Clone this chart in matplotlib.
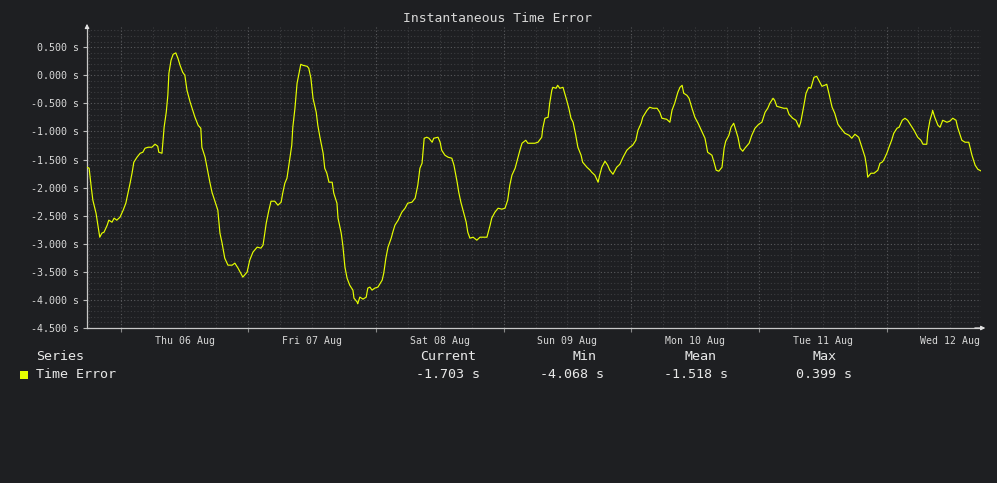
import datetime as dt
import matplotlib
matplotlib.use("Agg")
import matplotlib.pyplot as plt
import matplotlib.dates as mdates
from matplotlib.ticker import MultipleLocator, FuncFormatter

# hours since 2020-08-05 17:40, time error in seconds
hours = [
    0, 0.4, 0.8, 1.1, 1.7, 2.1, 2.4, 2.8, 3.2, 3.8, 4.1, 4.7, 5.1, 5.6, 6.2, 6.8, 7.3, 7.7, 8.1, 8.5,
    8.8, 9.4, 10.0, 10.5, 10.9, 11.5, 12.2, 12.8, 13.3, 13.5, 14.1, 14.3, 14.5, 14.9, 15.2, 15.4, 15.8, 16.2, 16.7, 17.1,
    17.5, 18.0, 18.4, 18.8, 19.4, 19.7, 20.3, 20.9, 21.4, 21.6, 22.2, 22.6, 23.1, 23.5, 24.1, 24.6, 25.0, 25.4, 25.9, 26.5,
    27.3, 27.8, 28.4, 28.8, 29.3, 30.1, 30.6, 31.2, 32.0, 32.7, 33.1, 33.7, 34.2, 34.6, 35.3, 35.9, 36.5, 36.8, 37.2, 37.6,
    38.0, 38.5, 38.7, 39.1, 39.5, 39.9, 40.2, 40.6, 41.4, 41.7, 42.1, 42.5, 43.1, 43.4, 43.8, 44.4, 44.7, 45.1, 45.5, 46.1,
    46.4, 47.0, 47.2, 47.8, 48.1, 48.5, 48.9, 49.4, 50.0, 50.2, 50.8, 50.9, 51.3, 51.9, 52.5, 52.8, 53.2, 53.6, 54.1, 54.7,
    55.5, 55.8, 56.2, 56.6, 57.2, 57.5, 57.9, 58.5, 59.2, 59.8, 60.3, 61.1, 61.7, 62.2, 62.6, 63.0, 63.4, 63.9, 64.3, 64.9,
    65.2, 66.0, 66.4, 66.7, 67.3, 67.9, 68.6, 69.0, 69.6, 69.9, 70.3, 70.7, 71.3, 71.6, 72.0, 72.6, 73.3, 73.9, 74.4, 75.2,
    75.8, 76.1, 76.7, 77.3, 78.0, 78.6, 79.1, 79.5, 79.9, 80.5, 81.0, 81.4, 81.8, 82.5, 82.9, 83.7, 84.2, 84.8, 85.5, 85.7,
    86.1, 86.7, 87.0, 87.4, 87.6, 88.2, 88.5, 88.9, 89.5, 90.2, 90.6, 91.0, 91.4, 91.9, 92.3, 92.9, 93.2, 94.0, 94.6, 94.9,
    95.5, 96.1, 96.4, 96.8, 97.4, 97.9, 98.3, 98.9, 99.6, 100.2, 100.8, 101.5, 102.1, 102.6, 103.2, 103.6, 104.2, 104.5, 105.3, 105.8,
    106.4, 107.2, 107.7, 108.1, 109.0, 109.6, 110.0, 110.5, 111.1, 111.5, 111.9, 112.2, 112.8, 113.2, 113.7, 114.3, 114.9, 115.6, 116.2, 116.7,
    117.5, 117.9, 118.3, 118.8, 119.4, 119.8, 120.1, 120.7, 121.1, 121.6, 122.0, 122.4, 122.8, 123.3, 123.7, 124.5, 125.0, 125.6, 126.3, 126.9,
    127.5, 128.0, 128.4, 129.0, 129.3, 129.7, 130.3, 131.0, 131.6, 132.0, 132.7, 133.3, 133.9, 134.2, 134.8, 135.2, 135.7, 136.1, 136.7, 137.2,
    137.6, 138.2, 138.7, 139.1, 139.5, 140.1, 140.6, 141.2, 141.9, 142.5, 143.3, 143.8, 144.4, 145.1, 145.7, 146.3, 146.6, 146.8, 147.4, 148.0,
    148.7, 149.1, 149.5, 149.8, 150.4, 150.8, 151.3, 151.7, 152.3, 152.7, 153.3, 153.8, 154.3, 154.9, 155.5, 156.2, 156.8, 157.2, 157.9, 158.1,
    158.5, 158.9, 159.0, 159.4, 160.0, 160.4, 160.9, 161.7, 162.2, 162.8, 163.4, 163.7, 164.5, 165.1, 165.8, 166.4, 167.0, 167.5, 168.1,
]
time_error = [
    -1.637, -1.655, -1.993, -2.224, -2.456, -2.705, -2.883, -2.811, -2.794, -2.669, -2.580, -2.616, -2.544, -2.580, -2.527, -2.402, -2.278, -2.100, -1.922, -1.726,
    -1.548, -1.459, -1.388, -1.370, -1.299, -1.281, -1.281, -1.228, -1.263, -1.370, -1.388, -1.157, -0.925, -0.658, -0.356, 0.036, 0.267, 0.374, 0.399, 0.302,
    0.178, 0.053, 0.0, -0.267, -0.480, -0.569, -0.747, -0.890, -0.943, -1.281, -1.459, -1.655, -1.904, -2.082, -2.260, -2.402, -2.811, -2.989, -3.256, -3.381,
    -3.381, -3.345, -3.434, -3.505, -3.594, -3.505, -3.292, -3.149, -3.060, -3.078, -3.025, -2.633, -2.402, -2.242, -2.242, -2.313, -2.260, -2.100, -1.922, -1.833,
    -1.566, -1.246, -0.925, -0.587, -0.142, 0.053, 0.196, 0.178, 0.160, 0.125, -0.053, -0.409, -0.658, -0.890, -1.103, -1.388, -1.655, -1.744, -1.904, -1.904,
    -2.100, -2.278, -2.544, -2.811, -3.025, -3.416, -3.612, -3.737, -3.826, -3.968, -4.039, -4.068, -3.950, -3.986, -3.950, -3.790, -3.772, -3.826, -3.790, -3.772,
    -3.648, -3.523, -3.256, -3.060, -2.900, -2.794, -2.669, -2.580, -2.438, -2.367, -2.278, -2.260, -2.189, -1.957, -1.655, -1.566, -1.121, -1.103, -1.121, -1.192,
    -1.121, -1.103, -1.192, -1.335, -1.423, -1.459, -1.477, -1.601, -1.904, -2.082, -2.260, -2.402, -2.616, -2.794, -2.900, -2.883, -2.936, -2.883, -2.883, -2.883,
    -2.669, -2.544, -2.438, -2.367, -2.384, -2.367, -2.224, -1.957, -1.779, -1.655, -1.477, -1.335, -1.210, -1.157, -1.210, -1.210, -1.210, -1.192, -1.103, -0.943,
    -0.765, -0.747, -0.498, -0.267, -0.214, -0.231, -0.178, -0.231, -0.214, -0.445, -0.587, -0.765, -0.836, -1.068, -1.281, -1.423, -1.548, -1.637, -1.690, -1.726,
    -1.779, -1.904, -1.779, -1.637, -1.530, -1.601, -1.690, -1.762, -1.637, -1.584, -1.459, -1.335, -1.281, -1.246, -1.157, -0.979, -0.854, -0.747, -0.623, -0.569,
    -0.587, -0.587, -0.658, -0.765, -0.783, -0.836, -0.623, -0.498, -0.302, -0.214, -0.178, -0.320, -0.356, -0.409, -0.569, -0.747, -0.854, -0.996, -1.121, -1.370,
    -1.423, -1.548, -1.690, -1.708, -1.637, -1.299, -1.174, -1.068, -0.925, -0.854, -0.979, -1.103, -1.299, -1.352, -1.299, -1.210, -1.068, -0.943, -0.872, -0.836,
    -0.658, -0.587, -0.498, -0.409, -0.445, -0.552, -0.569, -0.587, -0.587, -0.694, -0.765, -0.801, -0.925, -0.836, -0.534, -0.320, -0.214, -0.231, -0.036, -0.018,
    -0.089, -0.196, -0.178, -0.160, -0.320, -0.569, -0.676, -0.872, -0.961, -1.032, -1.068, -1.121, -1.050, -1.103, -1.281, -1.459, -1.637, -1.815, -1.744, -1.744,
    -1.690, -1.566, -1.548, -1.512, -1.388, -1.281, -1.157, -1.032, -0.943, -0.925, -0.801, -0.765, -0.801, -0.890, -0.979, -1.103, -1.157, -1.228, -1.228, -1.014,
    -0.801, -0.676, -0.623, -0.747, -0.890, -0.925, -0.801, -0.836, -0.818, -0.765, -0.801, -0.925, -1.157, -1.192, -1.192, -1.423, -1.601, -1.673, -1.703,
]

series_name = "Time Error"
stat_names = ["Current", "Min", "Mean", "Max"]
stat_values = [-1.703, -4.068, -1.518, 0.399]

start = dt.datetime(2020, 8, 5, 17, 40)
end = start + dt.timedelta(hours=168.1)
times = [start + dt.timedelta(hours=h) for h in hours]

bg = "#1e1f22"
fg = "#d8d8d8"
line_color = "#e6ff00"
mono = "DejaVu Sans Mono"

W, H = 997, 483
fig = plt.figure(figsize=(W / 100, H / 100), dpi=100, facecolor=bg)
ax = fig.add_axes([87 / W, 1 - 328 / H, 894 / W, 301 / H], facecolor=bg)

ax.plot(times, time_error, color=line_color, lw=0.85, zorder=3)

ax.set_xlim(start, end)
ax.set_ylim(-4.5, 0.86)

# y axis: major 0.5 s, minor 0.1 s
ax.yaxis.set_major_locator(MultipleLocator(0.5))
ax.yaxis.set_minor_locator(MultipleLocator(0.1))
ax.yaxis.set_major_formatter(FuncFormatter(lambda v, p: f"{v:.3f} s"))

# x axis: grid lines at midnight, minor each 6 h, labels at noon
ax.xaxis.set_major_locator(mdates.DayLocator())
ax.xaxis.set_minor_locator(mdates.HourLocator(byhour=[6, 12, 18]))
ax.xaxis.set_major_formatter(FuncFormatter(lambda v, p: ""))
for d in range(6, 13):
    noon = dt.datetime(2020, 8, d, 12)
    ax.text(mdates.date2num(noon), -0.028, noon.strftime("%a %d %b"), transform=ax.get_xaxis_transform(),
            ha="center", va="top", color=fg, fontsize=7.1, family=mono)

ax.grid(which="minor", color="#3c3d40", lw=0.8, ls=(0, (1, 2)))
ax.grid(which="major", color="#5a5b5e", lw=0.8, ls=(0, (1, 2)))

ax.tick_params(axis="y", which="major", length=3, width=0.8, color="#bbbbbb", labelcolor=fg,
               labelsize=7.2, pad=3)
ax.tick_params(axis="x", which="major", length=3, width=0.8, color="#888888", pad=1)
ax.tick_params(which="minor", length=0)
for lab in ax.get_yticklabels():
    lab.set_family(mono)

for s in ["top", "right"]:
    ax.spines[s].set_visible(False)
for s in ["left", "bottom"]:
    ax.spines[s].set_color("#c8c8c8")
    ax.spines[s].set_linewidth(0.9)

# arrow heads on the axes
ax.annotate("", xy=(0, 1.02), xytext=(0, 0.99), xycoords="axes fraction",
            arrowprops=dict(arrowstyle="-|>", color="#e0e0e0", lw=0.9, mutation_scale=6))
ax.annotate("", xy=(1.008, 0), xytext=(0.99, 0), xycoords="axes fraction",
            arrowprops=dict(arrowstyle="-|>", color="#e0e0e0", lw=0.9, mutation_scale=6))

fig.text(497 / W, 1 - 19 / H, "Instantaneous Time Error", ha="center", va="center",
         color=fg, fontsize=9.4, family=mono)

# legend block
def fy(y):
    return 1 - y / H

fig.text(36 / W, fy(356), "Series", ha="left", va="center", color="#e8e8e8", fontsize=9.6, family=mono)
fig.text(36 / W, fy(374), series_name, ha="left", va="center", color="#e8e8e8", fontsize=9.6, family=mono)
fig.patches.append(plt.Rectangle((20 / W, fy(379)), 8 / W, 8 / H, transform=fig.transFigure,
                                 facecolor=line_color, edgecolor="none"))
head_x = [448, 584, 700, 824]
val_x = [448, 572, 696, 824]
for name, val, hx, vx in zip(stat_names, stat_values, head_x, val_x):
    fig.text(hx / W, fy(356), name, ha="center", va="center", color="#e8e8e8", fontsize=9.6, family=mono)
    fig.text(vx / W, fy(374), f"{val:.3f} s", ha="center", va="center", color="#e8e8e8",
             fontsize=9.6, family=mono)

fig.savefig("out.png", dpi=100, facecolor=bg)
